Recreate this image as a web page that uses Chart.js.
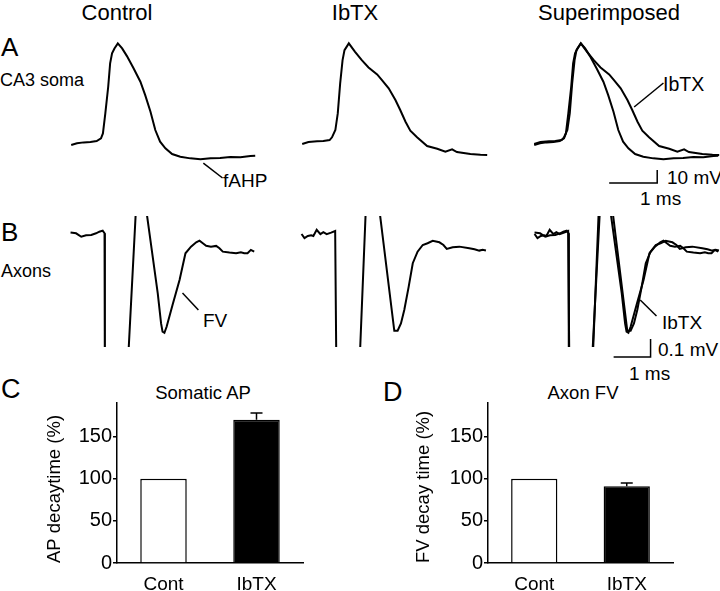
<!DOCTYPE html>
<html>
<head>
<meta charset="utf-8">
<script src="https://cdn.jsdelivr.net/npm/chart.js@4.4.1/dist/chart.umd.min.js"></script>
<style>
  body { margin: 0; width: 720px; height: 591px; position: relative; overflow: hidden; background: #fff;
         font-family: "Liberation Sans", Arial, sans-serif; color: #000; }
  canvas { position: absolute; }
  .t { position: absolute; line-height: 1; white-space: nowrap; }
  .c { transform: translateX(-50%); }
</style>
</head>
<body>
<script>
// ---- soma AP traces (ms, mV from baseline) ----
const somaCtrlT = [0, 0.12, 0.26, 0.40, 0.53, 0.62, 0.66, 0.71, 0.77, 0.81, 0.85, 0.90, 0.97, 1.06, 1.16, 1.30, 1.44, 1.54, 1.65, 1.75, 1.85, 1.96, 2.10, 2.27, 2.48, 2.69, 2.90, 3.10, 3.31, 3.52, 3.73, 3.83];
const somaCtrlV = [-1.5, -0.2, 0.5, 0.8, 1.5, 3.6, 7.4, 22.8, 43.3, 61.3, 69.0, 72.8, 76.7, 72.8, 66.9, 57.4, 47.2, 36.9, 24.1, 10.0, 1.0, -4.1, -8.5, -10.5, -11.8, -12.5, -11.8, -11.5, -10.8, -11.0, -10.0, -9.8];
const somaIbtxT = [0, 0.13, 0.31, 0.44, 0.57, 0.62, 0.69, 0.74, 0.79, 0.84, 0.88, 0.97, 1.10, 1.24, 1.38, 1.56, 1.66, 1.80, 1.94, 2.04, 2.15, 2.25, 2.39, 2.60, 2.81, 2.98, 3.12, 3.22, 3.50, 3.71, 3.85];
const somaIbtxV = [-0.8, 0.8, 1.3, 1.5, 2.3, 4.4, 10.0, 22.8, 45.9, 63.8, 71.5, 76.7, 70.2, 63.8, 58.2, 52.8, 48.5, 42.1, 33.1, 25.4, 16.4, 9.5, 4.4, -2.3, -4.4, -6.7, -4.8, -6.9, -8.5, -9.0, -9.2];

// ---- axon fibre volley traces (ms, mV); -0.93 / 0.29 are the clipped stimulus artifact ----
const axonCtrlT = [0, 0.15, 0.29, 0.42, 0.56, 0.69, 0.78, 0.87, 0.92, 0.93, 1.50, 1.81, 1.94, 2.36, 2.45, 2.49, 2.54, 2.60, 2.76, 2.95, 3.11, 3.26, 3.40, 3.49, 3.58, 3.67, 3.80, 3.94, 4.03, 4.12, 4.30, 4.48, 4.61, 4.70, 4.79, 4.88, 4.97];
const axonCtrlV = [0.002, -0.002, -0.021, -0.013, -0.011, -0.002, 0.007, 0.013, -0.002, -0.93, -0.93, 0.29, 0.29, -0.335, -0.502, -0.548, -0.554, -0.521, -0.40, -0.261, -0.113, -0.076, -0.052, -0.043, -0.057, -0.071, -0.076, -0.072, -0.085, -0.104, -0.109, -0.113, -0.107, -0.113, -0.113, -0.094, -0.104];
const axonIbtxT = [0, 0.08, 0.17, 0.26, 0.32, 0.41, 0.51, 0.59, 0.68, 0.80, 0.91, 0.95, 1.53, 1.77, 2.01, 2.51, 2.60, 2.69, 2.78, 2.90, 3.01, 3.14, 3.28, 3.41, 3.55, 3.73, 3.84, 3.93, 4.09, 4.27, 4.54, 4.68, 4.81, 4.90, 4.99];
const axonIbtxV = [-0.006, -0.029, -0.017, -0.013, -0.017, 0.017, -0.007, 0.004, -0.007, 0.002, 0.011, -0.93, -0.93, 0.29, 0.29, -0.543, -0.543, -0.502, -0.428, -0.298, -0.168, -0.104, -0.067, -0.057, -0.044, -0.052, -0.067, -0.089, -0.079, -0.076, -0.085, -0.091, -0.098, -0.094, -0.098];

// ---- bar graphs (% of control) ----
const barLabels = ["Cont", "IbTX"];
const somaDecay = [100, 170];
const somaSem = [0, 8];
const axonDecay = [100, 91];
const axonSem = [0, 4];
const decayMax = 190;
const decayStep = 50;

Chart.defaults.font.family = '"Liberation Sans", Arial, sans-serif';
Chart.defaults.color = "#000";

// ---- text labels ----
function label(text, x, cy, size, center) {
  const d = document.createElement("div");
  d.className = "t" + (center ? " c" : "");
  d.textContent = text;
  d.style.fontSize = size + "px";
  d.style.left = x + "px";
  d.style.top = (cy - 0.49 * size) + "px";
  document.body.appendChild(d);
}
label("Control", 117, 13, 22, true);
label("IbTX", 355, 13, 22, true);
label("Superimposed", 609, 13, 22, true);
label("A", 1, 46.5, 26);
label("CA3 soma", 0, 79.5, 18);
label("fAHP", 223, 180, 19);
label("IbTX", 663, 85, 19.5);
label("10 mV", 667, 177, 19);
label("1 ms", 640, 198, 19);
label("B", 1, 232, 26);
label("Axons", 1, 271, 18);
label("FV", 203, 320, 19);
label("IbTX", 662, 322, 19);
label("0.1 mV", 658, 349, 19);
label("1 ms", 629, 373, 19);
label("C", 1, 389, 27);
label("Somatic AP", 203, 393, 18.5, true);
label("D", 383, 392, 27);
label("Axon FV", 583, 393, 18.5, true);

// straight marks (pointers, scale bars) given in data units
const marks = {
  id: "marks",
  afterDraw(chart, args, opts) {
    const { ctx, scales: { x, y } } = chart;
    ctx.save();
    ctx.strokeStyle = "#000";
    ctx.lineWidth = 1.5;
    (opts.lines || []).forEach(l => {
      ctx.beginPath();
      for (let i = 0; i < l.length; i += 2) {
        const px = x.getPixelForValue(l[i]), py = y.getPixelForValue(l[i + 1]);
        if (i) ctx.lineTo(px, py); else ctx.moveTo(px, py);
      }
      ctx.stroke();
    });
    ctx.restore();
  }
};

const somaRow = { baseY: 143, pxMs: 48, pxMv: 1.3, x: [-0.15, 3.95], y: [-40, 87], pad: 0, cols: [71, 302, 534] };
const axonRow = { baseY: 233, pxMs: 37, pxMv: 180, x: [-0.15, 5.1], y: [-0.633, 0.094], pad: 16, cols: [71, 302, 535] };

function trace(row, col, sets, lines) {
  const cv = document.createElement("canvas");
  const w = Math.round((row.x[1] - row.x[0]) * row.pxMs);
  const h = Math.round((row.y[1] - row.y[0]) * row.pxMv) + row.pad;
  cv.width = w; cv.height = h;
  cv.style.width = w + "px"; cv.style.height = h + "px";
  cv.style.left = (row.cols[col] + row.x[0] * row.pxMs) + "px";
  cv.style.top = (row.baseY - row.y[1] * row.pxMv) + "px";
  document.body.appendChild(cv);
  new Chart(cv, {
    type: "line",
    data: {
      datasets: sets.map(s => ({
        data: s[0].map((t, i) => ({ x: t, y: s[1][i] })),
        borderColor: "#000", borderWidth: 2, pointRadius: 0, tension: 0
      }))
    },
    options: {
      responsive: false, animation: false, events: [],
      layout: { padding: { bottom: row.pad } },
      scales: {
        x: { type: "linear", display: false, min: row.x[0], max: row.x[1] },
        y: { display: false, min: row.y[0], max: row.y[1] }
      },
      plugins: { legend: { display: false }, tooltip: { enabled: false }, marks: { lines } }
    },
    plugins: [marks]
  });
}

const somaBar = [1.56, -30.8, 2.56, -30.8, 2.56, -20.8];      // 1 ms, 10 mV
const axonBar = [2.14, -0.689, 3.14, -0.689, 3.14, -0.589];   // 1 ms, 0.1 mV

trace(somaRow, 0, [[somaCtrlT, somaCtrlV]], [[2.75, -15.4, 3.15, -26.9]]);
trace(somaRow, 1, [[somaIbtxT, somaIbtxV]], []);
trace(somaRow, 2, [[somaCtrlT, somaCtrlV], [somaIbtxT, somaIbtxV]], [[2.08, 27.7, 2.69, 46.2], somaBar]);
trace(axonRow, 0, [[axonCtrlT, axonCtrlV]], [[3.03, -0.333, 3.46, -0.428]]);
trace(axonRow, 1, [[axonIbtxT, axonIbtxV]], []);
trace(axonRow, 2, [[axonCtrlT, axonCtrlV], [axonIbtxT, axonIbtxV]], [[2.86, -0.372, 3.30, -0.461], axonBar]);

// ---- error bars on the bar graphs ----
const errorBars = {
  id: "errorBars",
  afterDatasetsDraw(chart) {
    const { ctx, scales: { y } } = chart;
    const ds = chart.data.datasets[0];
    ctx.save();
    ctx.strokeStyle = "#000";
    ctx.lineWidth = 1.5;
    chart.getDatasetMeta(0).data.forEach((bar, i) => {
      const e = ds.sem[i];
      if (!e) return;
      const top = y.getPixelForValue(ds.data[i] + e);
      ctx.beginPath();
      ctx.moveTo(bar.x, bar.y);
      ctx.lineTo(bar.x, top);
      ctx.moveTo(bar.x - 6, top);
      ctx.lineTo(bar.x + 6, top);
      ctx.stroke();
    });
    ctx.restore();
  }
};

function barPanel(left, width, axisW, titlePad, values, sems, yTitle) {
  const cv = document.createElement("canvas");
  cv.width = width; cv.height = 201;
  cv.style.width = width + "px"; cv.style.height = "201px";
  cv.style.left = left + "px"; cv.style.top = "390px";
  document.body.appendChild(cv);
  new Chart(cv, {
    type: "bar",
    data: {
      labels: barLabels,
      datasets: [{
        data: values, sem: sems,
        backgroundColor: ["#fff", "#000"], borderColor: "#000", borderWidth: 1.5,
        barPercentage: 0.5, categoryPercentage: 1
      }]
    },
    options: {
      responsive: false, animation: false, events: [],
      layout: { padding: { top: 8, right: 17 } },
      scales: {
        x: {
          grid: { display: false },
          border: { display: true, color: "#000", width: 1.5 },
          ticks: { color: "#000", font: { size: 19 }, padding: 2 },
          afterFit: s => { s.height = 28; }
        },
        y: {
          min: 0, max: decayMax,
          ticks: { stepSize: decayStep, includeBounds: false, color: "#000", font: { size: 20 }, padding: 1 },
          grid: { drawOnChartArea: false, color: "#000", lineWidth: 1.5, tickLength: 4 },
          border: { color: "#000", width: 1.5 },
          title: { display: true, text: yTitle, align: "start", color: "#000", font: { size: 18.5 }, padding: { top: titlePad, bottom: 0 } },
          afterFit: s => { s.width = axisW; }
        }
      },
      plugins: { legend: { display: false }, tooltip: { enabled: false } }
    },
    plugins: [errorBars]
  });
}

barPanel(0, 320, 117, 44, somaDecay, somaSem, "AP decaytime (%)");
barPanel(360, 330, 128, 53, axonDecay, axonSem, "FV decay time (%)");
</script>
</body>
</html>
